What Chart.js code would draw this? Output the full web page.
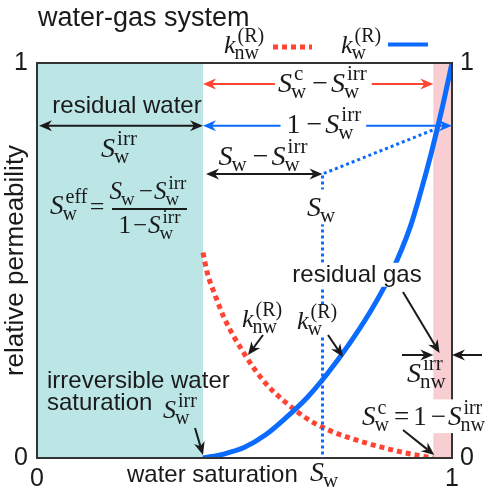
<!DOCTYPE html>
<html>
<head>
<meta charset="utf-8">
<script src="https://cdn.jsdelivr.net/npm/chart.js@4/dist/chart.umd.min.js"></script>
<style>html,body{margin:0;background:#fff}canvas{display:block}</style>
</head>
<body>
<canvas id="c" width="491" height="490"></canvas>
<script>
// relative permeability curves
let swW  = [0.40, 0.45, 0.50, 0.55, 0.60, 0.65, 0.70, 0.75, 0.80, 0.85, 0.90, 0.925, 0.95, 0.975, 1.00];
let kW   = [0.00, 0.010, 0.027, 0.058, 0.102, 0.152, 0.214, 0.285, 0.365, 0.460, 0.587, 0.675, 0.772, 0.880, 1.00];
let swNW = [0.40, 0.41, 0.43, 0.45, 0.50, 0.55, 0.60, 0.65, 0.70, 0.75, 0.80, 0.85, 0.90, 0.955];
let kNW  = [0.52, 0.47, 0.41, 0.357, 0.263, 0.19, 0.14, 0.10, 0.072, 0.052, 0.036, 0.022, 0.010, 0.0];
let tickVals = [0, 1];

// marked saturations
let SW_IRR = 0.40, SW_C = 0.955, SW = 0.688;

const SANS = '"Liberation Sans", Arial, sans-serif';
const SERIF = '"Liberation Serif", "Times New Roman", serif';
const RED = '#ff4433', BLUE = '#0b6bff', INK = '#1a1a1a';

// draws a row of math: strings are roman, [base, sup, sub] is italic base with scripts
function mrow(ctx, parts, x, y, align, B, bg, pad) {
    B = B || 28;
    pad = pad === undefined ? 3 : pad;
    let s = Math.round(B * 0.75);
    let items = parts.map(function (p) {
        if (typeof p === 'string') {
            ctx.font = B + 'px ' + SERIF;
            return {t: p, w: ctx.measureText(p).width + 2 * pad};
        }
        ctx.font = 'italic ' + B + 'px ' + SERIF;
        let bw = ctx.measureText(p[0]).width;
        ctx.font = s + 'px ' + SERIF;
        let ws = Math.max(p[1] ? ctx.measureText(p[1]).width + 2 : 0, p[2] ? ctx.measureText(p[2]).width : 0);
        return {p: p, bw: bw, w: bw + ws + 2};
    });
    let total = 0;
    items.forEach(function (it) { total += it.w; });
    let x0 = align === 'center' ? x - total / 2 : (align === 'right' ? x - total : x);
    if (bg) {
        ctx.fillStyle = '#fff';
        ctx.fillRect(x0 - bg, y - B * 0.95, total + 2 * bg, B * 1.25);
    }
    ctx.fillStyle = INK;
    ctx.textBaseline = 'alphabetic';
    ctx.textAlign = 'left';
    let cx = x0;
    items.forEach(function (it) {
        if (it.t) {
            ctx.font = B + 'px ' + SERIF;
            ctx.fillText(it.t, cx + pad, y);
        } else {
            ctx.font = 'italic ' + B + 'px ' + SERIF;
            ctx.fillText(it.p[0], cx, y);
            ctx.font = s + 'px ' + SERIF;
            if (it.p[1]) ctx.fillText(it.p[1], cx + it.bw + 2, y - B * 0.42);
            if (it.p[2]) ctx.fillText(it.p[2], cx + it.bw - 1, y + B * 0.22);
        }
        cx += it.w;
    });
    return total;
}

function arrowHead(ctx, x, y, ang, color) {
    ctx.save();
    ctx.translate(x, y);
    ctx.rotate(ang);
    ctx.beginPath();
    ctx.moveTo(0, 0);
    ctx.lineTo(-13, -5.5);
    ctx.lineTo(-9, 0);
    ctx.lineTo(-13, 5.5);
    ctx.closePath();
    ctx.fillStyle = color;
    ctx.fill();
    ctx.restore();
}

function arrow(ctx, x1, y1, x2, y2, color, both, lw) {
    let ang = Math.atan2(y2 - y1, x2 - x1);
    let dx = Math.cos(ang) * 9, dy = Math.sin(ang) * 9;
    ctx.save();
    ctx.strokeStyle = color;
    ctx.lineWidth = lw || 2;
    ctx.setLineDash([]);
    ctx.beginPath();
    ctx.moveTo(both ? x1 + dx : x1, both ? y1 + dy : y1);
    ctx.lineTo(x2 - dx, y2 - dy);
    ctx.stroke();
    ctx.restore();
    arrowHead(ctx, x2, y2, ang, color);
    if (both) arrowHead(ctx, x1, y1, ang + Math.PI, color);
}

function sansText(ctx, t, x, y, size, align, bg) {
    ctx.font = size + 'px ' + SANS;
    ctx.textAlign = align || 'left';
    ctx.textBaseline = 'alphabetic';
    if (bg) {
        let w = ctx.measureText(t).width;
        let x0 = align === 'center' ? x - w / 2 : x;
        ctx.fillStyle = '#fff';
        ctx.fillRect(x0 - bg, y - size * 0.8, w + 2 * bg, size * 1.0);
    }
    ctx.fillStyle = INK;
    ctx.fillText(t, x, y);
}

// shaded residual zones behind the curves
let zones = {
    id: 'zones',
    beforeDatasetsDraw(chart) {
        let ctx = chart.ctx, a = chart.chartArea;
        let X = v => chart.scales.x.getPixelForValue(v);
        ctx.save();
        ctx.fillStyle = '#bce6e6';
        ctx.fillRect(a.left, a.top, X(SW_IRR) - a.left, a.bottom - a.top);
        ctx.fillStyle = '#f8ced2';
        ctx.fillRect(X(SW_C), a.top, a.right - X(SW_C), a.bottom - a.top);
        ctx.restore();
    }
};

// frame, guides and all the labels
let notes = {
    id: 'notes',
    afterDatasetsDraw(chart) {
        let ctx = chart.ctx, a = chart.chartArea;
        let X = v => chart.scales.x.getPixelForValue(v);
        let Y = v => chart.scales.y.getPixelForValue(v);
        ctx.save();

        ctx.strokeStyle = '#333';
        ctx.lineWidth = 2;
        ctx.strokeRect(a.left, a.top, a.right - a.left, a.bottom - a.top);

        // title + legend
        sansText(ctx, 'water-gas system', 38, 26, 27);
        mrow(ctx, [['k', '(R)', 'nw']], 224, 53, 'left', 26);
        ctx.strokeStyle = RED; ctx.lineWidth = 5; ctx.setLineDash([5, 4]);
        ctx.beginPath(); ctx.moveTo(273, 47); ctx.lineTo(312, 47); ctx.stroke();
        mrow(ctx, [['k', '(R)', 'w']], 341, 53, 'left', 26);
        ctx.strokeStyle = BLUE; ctx.lineWidth = 4; ctx.setLineDash([]);
        ctx.beginPath(); ctx.moveTo(388, 44.5); ctx.lineTo(428, 44.5); ctx.stroke();

        let rowC = Y(0.947), rowIrr = Y(0.841), rowSw = Y(0.719);

        // dotted guides at S_w
        ctx.strokeStyle = BLUE; ctx.lineWidth = 3; ctx.setLineDash([3, 3]);
        ctx.beginPath();
        ctx.moveTo(X(0.953), Y(0.83)); ctx.lineTo(X(SW), rowSw); ctx.lineTo(X(SW), Y(0));
        ctx.stroke();
        ctx.setLineDash([]);

        // arrows across the top
        arrow(ctx, X(SW_IRR), rowC, X(SW_C), rowC, RED, true);
        mrow(ctx, [['S', 'c', 'w'], '\u2212', ['S', 'irr', 'w']], X(0.69), rowC + 8, 'center', 28, 3);
        arrow(ctx, X(SW_IRR), rowIrr, X(1), rowIrr, BLUE, true);
        mrow(ctx, ['1', '\u2212', ['S', 'irr', 'w']], X(0.69), rowIrr + 7, 'center', 28, 3);
        arrow(ctx, X(0) + 2, rowIrr, X(SW_IRR), rowIrr, INK, true);
        sansText(ctx, 'residual water', 127, rowIrr - 13, 24, 'center');
        mrow(ctx, [['S', 'irr', 'w']], 120, rowIrr + 31, 'center', 28);
        arrow(ctx, X(SW_IRR) + 3, rowSw, X(SW), rowSw, INK, true);
        mrow(ctx, [['S', null, 'w'], '\u2212', ['S', 'irr', 'w']], 264, rowSw - 9, 'center', 28);
        mrow(ctx, [['S', null, 'w']], X(SW), 216, 'center', 28, 3);

        // effective saturation
        mrow(ctx, [['S', 'eff', 'w']], 50, 214, 'left', 27);
        mrow(ctx, ['='], 97, 215, 'center', 26, 0, 0);
        ctx.strokeStyle = INK; ctx.lineWidth = 2;
        ctx.beginPath(); ctx.moveTo(112, 209); ctx.lineTo(187, 209); ctx.stroke();
        mrow(ctx, [['S', null, 'w'], '\u2212', ['S', 'irr', 'w']], 149, 199, 'center', 25, 0, 1);
        mrow(ctx, ['1', '\u2212', ['S', 'irr', 'w']], 150, 233, 'center', 25, 0, 1);

        // curve labels
        mrow(ctx, [['k', '(R)', 'nw']], 242, 327, 'left', 26);
        arrow(ctx, 263, 335, 248, 355, INK, false);
        mrow(ctx, [['k', '(R)', 'w']], 297, 329, 'left', 26, 1);
        arrow(ctx, 328, 335, 343, 357, INK, false);

        // residual gas
        sansText(ctx, 'residual gas', 357, 282, 24, 'center', 3);
        arrow(ctx, 403, 292, X(0.97), 353, INK, false);
        arrow(ctx, 402, 355, X(SW_C), 355, INK, false);
        arrow(ctx, 482, 355, X(1), 355, INK, false);
        mrow(ctx, [['S', 'irr', 'nw']], 407, 382, 'left', 28);
        mrow(ctx, [['S', 'c', 'w'], '=', '1', '\u2212', ['S', 'irr', 'nw']], 362, 425, 'left', 27, 2, 2);
        arrow(ctx, 403, 430, X(SW_C) + 1, Y(0) - 3, INK, false);

        // irreducible water
        sansText(ctx, 'irreversible water', 47, 388, 24);
        sansText(ctx, 'saturation', 47, 410, 24);
        mrow(ctx, [['S', 'irr', 'w']], 163, 418, 'left', 26);
        arrow(ctx, 195, 428, X(SW_IRR), Y(0) - 3, INK, false);

        // x axis title
        sansText(ctx, 'water saturation', 127, 482, 24);
        mrow(ctx, [['S', null, 'w']], 310, 481, 'left', 28);

        ctx.restore();
    }
};

let tickFont = {family: SANS, size: 25};
let setTicks = function (s) { s.ticks = tickVals.map(v => ({value: v})); };

let ctx = document.getElementById('c').getContext('2d');
new Chart(ctx, {
    type: 'line',
    data: {
        datasets: [{
            label: 'kw',
            data: swW.map((v, i) => ({x: v, y: kW[i]})),
            borderColor: BLUE,
            borderWidth: 5,
            pointRadius: 0,
            cubicInterpolationMode: 'monotone',
            order: 0
        }, {
            label: 'knw',
            data: swNW.map((v, i) => ({x: v, y: kNW[i]})),
            borderColor: RED,
            borderWidth: 5,
            borderDash: [5, 4],
            borderCapStyle: 'butt',
            pointRadius: 0,
            cubicInterpolationMode: 'monotone',
            order: 1
        }]
    },
    options: {
        responsive: false,
        animation: false,
        layout: {padding: {top: 63, left: 0, right: 0, bottom: 0}},
        plugins: {legend: {display: false}, title: {display: false}, tooltip: {enabled: false}},
        scales: {
            x: {
                type: 'linear', min: 0, max: 1,
                grid: {display: false, drawTicks: false},
                border: {display: false},
                ticks: {font: tickFont, color: INK, padding: 6, maxRotation: 0, autoSkip: false},
                afterBuildTicks: setTicks,
                afterFit: s => { s.height = 32; }
            },
            y: {
                type: 'linear', min: 0, max: 1, position: 'left',
                grid: {display: false, drawTicks: false},
                border: {display: false},
                ticks: {font: tickFont, color: INK, padding: 9, autoSkip: false},
                afterBuildTicks: setTicks,
                title: {display: true, text: 'relative permeability', font: {family: SANS, size: 26}, color: INK, padding: {top: 0, bottom: 0}},
                afterFit: s => { s.width = 37; }
            },
            y2: {
                type: 'linear', min: 0, max: 1, position: 'right',
                grid: {display: false, drawTicks: false},
                border: {display: false},
                ticks: {font: tickFont, color: INK, padding: 8, autoSkip: false},
                afterBuildTicks: setTicks,
                afterFit: s => { s.width = 39; }
            }
        }
    },
    plugins: [zones, notes]
});
</script>
</body>
</html>
